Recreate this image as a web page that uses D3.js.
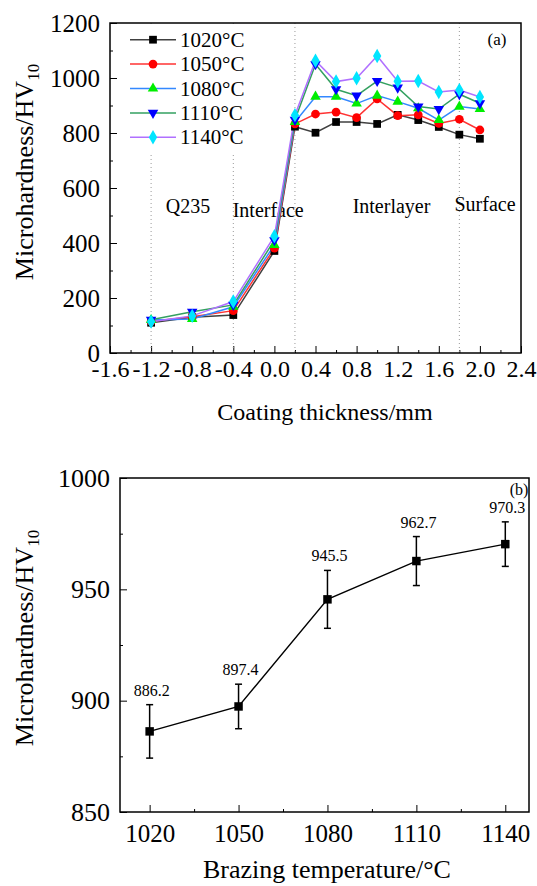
<!DOCTYPE html>
<html>
<head>
<meta charset="utf-8">
<script src="https://cdn.jsdelivr.net/npm/d3@7"></script>
<style>
  body { margin: 0; background: #fff; }
  svg text { font-family: "Liberation Serif", "Times New Roman", serif !important; fill: #000; }
</style>
</head>
<body>
<div id="chart"></div>
<script>
// (a) hardness profile across the coating
const thickness = [-1.2, -0.8, -0.4, 0.0, 0.2, 0.4, 0.6, 0.8, 1.0, 1.2, 1.4, 1.6, 1.8, 2.0];
const hv1020 = [110, 130, 138, 371, 823, 801, 840, 840, 833, 866, 847, 822, 794, 779];
const hv1050 = [115, 132, 154, 381, 833, 869, 876, 856, 924, 863, 866, 835, 850, 811];
const hv1080 = [120, 124, 168, 393, 840, 932, 932, 907, 936, 914, 890, 847, 896, 887];
const hv1110 = [121, 150, 175, 410, 848, 1050, 959, 936, 989, 965, 896, 887, 941, 908];
const hv1140 = [114, 135, 187, 425, 865, 1063, 987, 999, 1080, 988, 989, 949, 956, 931];
const seriesNames = ["1020°C", "1050°C", "1080°C", "1110°C", "1140°C"];
const xTicksA = [-1.6, -1.2, -0.8, -0.4, 0.0, 0.4, 0.8, 1.2, 1.6, 2.0, 2.4];
const yTicksA = [0, 200, 400, 600, 800, 1000, 1200];
const zoneBounds = [-1.2, -0.4, 0.2, 1.8];
const zoneNames = ["Q235", "Interface", "Interlayer", "Surface"];
const zoneX = [-0.84, -0.06, 1.14, 2.05];
const zoneY = [509, 495, 509, 516];

// (b) average hardness vs brazing temperature
const brazeTemp = [1020, 1050, 1080, 1110, 1140];
const meanHV = [886.2, 897.4, 945.5, 962.7, 970.3];
const errHV = [12, 10, 13, 11, 10];
const yTicksB = [850, 900, 950, 1000];

const FONT = '"Liberation Serif", "Times New Roman", serif';

const svg = d3.select("#chart").append("svg")
  .attr("width", 537)
  .attr("height", 886)
  .style("font-family", FONT);

// styles per series: line colour, marker fill, symbol
const lineColor = ["#404040", "#ff3333", "#3388ff", "#33a060", "#b070ff"];
const markColor = ["#000000", "#ff0000", "#00ee00", "#0000ff", "#00e5ff"];
const triDown = { draw(ctx, size) { const s = Math.sqrt(size * 4 / Math.sqrt(3)); ctx.moveTo(-s / 2, -s * 0.289); ctx.lineTo(s / 2, -s * 0.289); ctx.lineTo(0, s * 0.577); ctx.closePath(); } };
const symbols = [d3.symbolSquare, d3.symbolCircle, d3.symbolTriangle, triDown, d3.symbolDiamond];
const symSize = [60, 60, 48, 48, 60];
const allSeries = [hv1020, hv1050, hv1080, hv1110, hv1140];

function fontAxis(g, size) {
  g.attr("font-family", FONT);
  g.selectAll("text").style("font-size", size + "px").style("font-family", FONT);
  g.select(".domain").remove();
}

// ---------- chart (a) ----------
const A = { left: 110, top: 23, width: 411, height: 330 };
const gA = svg.append("g").attr("transform", `translate(${A.left},${A.top})`);
const xA = d3.scaleLinear().domain([-1.6, 2.4]).range([0, A.width]);
const yA = d3.scaleLinear().domain([0, 1200]).range([A.height, 0]);

// minor ticks
gA.append("g").attr("transform", `translate(0,${A.height})`)
  .call(d3.axisBottom(xA).tickValues(d3.range(-1.4, 2.4, 0.4)).tickSize(-3).tickFormat(""))
  .call(g => g.select(".domain").remove());
gA.append("g")
  .call(d3.axisLeft(yA).tickValues(d3.range(100, 1200, 200)).tickSize(-3).tickFormat(""))
  .call(g => g.select(".domain").remove());

gA.append("g").attr("transform", `translate(0,${A.height})`)
  .call(d3.axisBottom(xA).tickValues(xTicksA).tickSize(-7).tickPadding(7).tickFormat(d => d.toFixed(1)))
  .call(g => fontAxis(g, 24));
gA.append("g")
  .call(d3.axisLeft(yA).tickValues(yTicksA).tickSize(-7).tickPadding(10).tickFormat(d3.format("d")))
  .call(g => fontAxis(g, 25));

// zone separators
gA.selectAll(".zone")
  .data(zoneBounds)
  .join("line")
    .attr("x1", d => xA(d)).attr("x2", d => xA(d))
    .attr("y1", 0).attr("y2", A.height)
    .attr("stroke", "#999").attr("stroke-width", 1).attr("stroke-dasharray", "1,3");

gA.selectAll(".zoneLabel")
  .data(zoneNames)
  .join("text")
    .attr("x", (d, i) => xA(zoneX[i]))
    .attr("y", (d, i) => yA(zoneY[i]))
    .attr("text-anchor", "middle")
    .style("font-size", "20px")
    .text(d => d);

// series lines + markers
const lineA = d3.line().x((d, i) => xA(thickness[i])).y(d => yA(d));
allSeries.forEach((s, k) => {
  gA.append("path")
    .datum(s)
    .attr("d", lineA)
    .attr("fill", "none")
    .attr("stroke", lineColor[k])
    .attr("stroke-width", 1.5);
});
allSeries.forEach((s, k) => {
  gA.append("g").selectAll("path")
    .data(s)
    .join("path")
      .attr("transform", (d, i) => `translate(${xA(thickness[i])},${yA(d)})`)
      .attr("d", d3.symbol().type(symbols[k]).size(symSize[k]))
      .attr("fill", markColor[k]);
});

// legend
const leg = gA.append("g").attr("transform", "translate(17,0)");
leg.append("rect").attr("x", 0).attr("y", 2).attr("width", 118).attr("height", 127).attr("fill", "#fff");
seriesNames.forEach((name, k) => {
  const y = 16.7 + k * 24.4;
  leg.append("line").attr("x1", 3).attr("x2", 49).attr("y1", y).attr("y2", y)
    .attr("stroke", lineColor[k]).attr("stroke-width", 1.5);
  leg.append("path").attr("transform", `translate(26,${y})`)
    .attr("d", d3.symbol().type(symbols[k]).size(symSize[k]))
    .attr("fill", markColor[k]);
  leg.append("text").attr("x", 53).attr("y", y + 7).style("font-size", "21px").text(name);
});

gA.append("text").attr("x", 387).attr("y", 22).attr("text-anchor", "middle")
  .style("font-size", "17px").text("(a)");

gA.append("rect").attr("width", A.width).attr("height", A.height)
  .attr("fill", "none").attr("stroke", "#000").attr("stroke-width", 1.5);

svg.append("text").attr("x", 325).attr("y", 420).attr("text-anchor", "middle")
  .style("font-size", "24px").text("Coating thickness/mm");

function yTitle(cy) {
  const t = svg.append("text")
    .attr("transform", `translate(33,${cy}) rotate(-90)`)
    .attr("text-anchor", "middle")
    .style("font-size", "26px");
  t.append("tspan").text("Microhardness/HV");
  t.append("tspan").attr("dy", 6).style("font-size", "17px").text("10");
}
yTitle(172);

// ---------- chart (b) ----------
const B = { left: 120, top: 478, width: 409, height: 334 };
const gB = svg.append("g").attr("transform", `translate(${B.left},${B.top})`);
const xB = d3.scaleLinear().domain([1010, 1148]).range([0, B.width]);
const yB = d3.scaleLinear().domain([850, 1000]).range([B.height, 0]);

gB.append("g").attr("transform", `translate(0,${B.height})`)
  .call(d3.axisBottom(xB).tickValues([1035, 1065, 1095, 1125]).tickSize(-3).tickFormat(""))
  .call(g => g.select(".domain").remove());
gB.append("g")
  .call(d3.axisLeft(yB).tickValues([875, 925, 975]).tickSize(-3).tickFormat(""))
  .call(g => g.select(".domain").remove());

gB.append("g").attr("transform", `translate(0,${B.height})`)
  .call(d3.axisBottom(xB).tickValues(brazeTemp).tickSize(-7).tickPadding(12).tickFormat(d3.format("d")))
  .call(g => fontAxis(g, 25));
gB.append("g")
  .call(d3.axisLeft(yB).tickValues(yTicksB).tickSize(-7).tickPadding(10).tickFormat(d3.format("d")))
  .call(g => fontAxis(g, 26));

// error bars
const eb = gB.append("g").selectAll("g")
  .data(meanHV)
  .join("g")
    .attr("stroke", "#000").attr("stroke-width", 1.5);
eb.append("line")
  .attr("x1", (d, i) => xB(brazeTemp[i])).attr("x2", (d, i) => xB(brazeTemp[i]))
  .attr("y1", (d, i) => yB(d + errHV[i])).attr("y2", (d, i) => yB(d - errHV[i]));
eb.append("line")
  .attr("x1", (d, i) => xB(brazeTemp[i]) - 3.5).attr("x2", (d, i) => xB(brazeTemp[i]) + 3.5)
  .attr("y1", (d, i) => yB(d + errHV[i])).attr("y2", (d, i) => yB(d + errHV[i]));
eb.append("line")
  .attr("x1", (d, i) => xB(brazeTemp[i]) - 3.5).attr("x2", (d, i) => xB(brazeTemp[i]) + 3.5)
  .attr("y1", (d, i) => yB(d - errHV[i])).attr("y2", (d, i) => yB(d - errHV[i]));

gB.append("path")
  .datum(meanHV)
  .attr("d", d3.line().x((d, i) => xB(brazeTemp[i])).y(d => yB(d)))
  .attr("fill", "none").attr("stroke", "#000").attr("stroke-width", 1.4);

gB.append("g").selectAll("path")
  .data(meanHV)
  .join("path")
    .attr("transform", (d, i) => `translate(${xB(brazeTemp[i])},${yB(d)})`)
    .attr("d", d3.symbol().type(d3.symbolSquare).size(72))
    .attr("fill", "#000");

gB.append("g").selectAll("text")
  .data(meanHV)
  .join("text")
    .attr("x", (d, i) => xB(brazeTemp[i]) + 2)
    .attr("y", (d, i) => yB(d + errHV[i]) - 9)
    .attr("text-anchor", "middle")
    .style("font-size", "16px")
    .text(d => d.toFixed(1));

gB.append("text").attr("x", 399).attr("y", 17).attr("text-anchor", "middle")
  .style("font-size", "16px").text("(b)");

gB.append("rect").attr("width", B.width).attr("height", B.height)
  .attr("fill", "none").attr("stroke", "#000").attr("stroke-width", 1.5);

svg.append("text").attr("x", 327).attr("y", 878).attr("text-anchor", "middle")
  .style("font-size", "26px").text("Brazing temperature/°C");

yTitle(638);
</script>
</body>
</html>
